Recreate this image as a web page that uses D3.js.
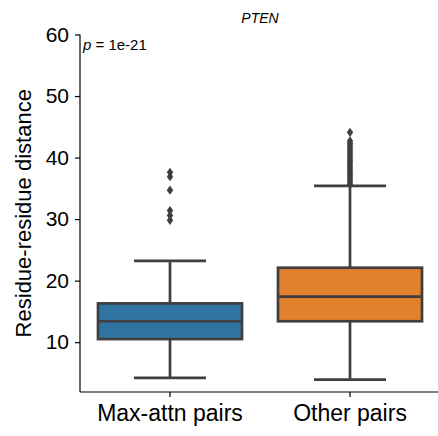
<!DOCTYPE html>
<html>
<head>
<meta charset="utf-8">
<script src="https://cdn.jsdelivr.net/npm/d3@7"></script>
<style>
  body { margin: 0; background: #fff; }
  text { font-family: 'Liberation Sans', Arial, Helvetica, sans-serif; fill: #000; }
</style>
</head>
<body>
<div class="content"></div>
<script>
var width = 438
var height = 436

// data
var categories = ['Max-attn pairs', 'Other pairs']
var colors = ['#3274a1', '#e1812c']
var whiskerLo = [4.2, 3.9]
var q1 = [10.5, 13.4]
var medians = [13.4, 17.4]
var q3 = [16.3, 22.1]
var whiskerHi = [23.2, 35.4]
var outliersMax = [37.6, 36.9, 34.7, 31.4, 30.6, 29.8]
var outliersOther = [44.1, 42.7, 42.3, 41.9, 41.5, 41.1, 40.7, 40.3, 39.9, 39.5,
    39.1, 38.7, 38.3, 37.9, 37.5, 37.1, 36.7, 36.3, 35.9, 35.6]
var yTicks = [10, 20, 30, 40, 50, 60]

var stats = categories.map(function(c, i) {
    return {
        name: c,
        color: colors[i],
        lo: whiskerLo[i], q1: q1[i], med: medians[i], q3: q3[i], hi: whiskerHi[i],
        fliers: i === 0 ? outliersMax : outliersOther
    }
})

var plotLeft = 80, plotRight = 440, plotTop = 34.5, plotBottom = 392
var lineColor = '#3f3f3f'

var x = d3.scaleBand()
    .domain(categories)
    .range([plotLeft, plotRight])
    .paddingInner(0.2)
    .paddingOuter(0.1)

var y = d3.scaleLinear()
    .domain([1.9, 60])
    .range([plotBottom, plotTop])

var svg = d3.select('.content').append('svg')
    .attr('width', width)
    .attr('height', height)

var g = svg.append('g')

var box = g.selectAll('.box')
    .data(stats)
    .enter().append('g')
    .attr('class', 'box')

var bw = x.bandwidth()

// whiskers
box.append('line')
    .attr('x1', function(d) { return x(d.name) + bw / 2 })
    .attr('x2', function(d) { return x(d.name) + bw / 2 })
    .attr('y1', function(d) { return y(d.lo) })
    .attr('y2', function(d) { return y(d.q1) })
box.append('line')
    .attr('x1', function(d) { return x(d.name) + bw / 2 })
    .attr('x2', function(d) { return x(d.name) + bw / 2 })
    .attr('y1', function(d) { return y(d.q3) })
    .attr('y2', function(d) { return y(d.hi) })
// caps
box.append('line')
    .attr('x1', function(d) { return x(d.name) + bw / 4 })
    .attr('x2', function(d) { return x(d.name) + bw * 3 / 4 })
    .attr('y1', function(d) { return y(d.lo) })
    .attr('y2', function(d) { return y(d.lo) })
box.append('line')
    .attr('x1', function(d) { return x(d.name) + bw / 4 })
    .attr('x2', function(d) { return x(d.name) + bw * 3 / 4 })
    .attr('y1', function(d) { return y(d.hi) })
    .attr('y2', function(d) { return y(d.hi) })

box.selectAll('line')
    .style('stroke', lineColor)
    .style('stroke-width', 2.7)

// box body
box.append('rect')
    .attr('x', function(d) { return x(d.name) })
    .attr('width', bw)
    .attr('y', function(d) { return y(d.q3) })
    .attr('height', function(d) { return y(d.q1) - y(d.q3) })
    .style('fill', function(d) { return d.color })
    .style('stroke', lineColor)
    .style('stroke-width', 2.7)

// median
box.append('line')
    .attr('x1', function(d) { return x(d.name) })
    .attr('x2', function(d) { return x(d.name) + bw })
    .attr('y1', function(d) { return y(d.med) })
    .attr('y2', function(d) { return y(d.med) })
    .style('stroke', lineColor)
    .style('stroke-width', 2.7)

// fliers as thin diamonds
box.each(function(d) {
    var cx = x(d.name) + bw / 2
    d3.select(this).selectAll('.flier')
        .data(d.fliers)
        .enter().append('path')
        .attr('class', 'flier')
        .attr('d', function(v) {
            var cy = y(v)
            return 'M' + cx + ',' + (cy - 4.6) + 'L' + (cx + 3.2) + ',' + cy +
                'L' + cx + ',' + (cy + 4.6) + 'L' + (cx - 3.2) + ',' + cy + 'Z'
        })
        .style('fill', lineColor)
})

// axes
var yAxis = g.append('g')
    .attr('transform', 'translate(' + plotLeft + ',0)')
    .call(d3.axisLeft(y).tickValues(yTicks).tickSize(5).tickPadding(6))
yAxis.selectAll('text').style('font-size', '21px')

var xAxis = g.append('g')
    .attr('transform', 'translate(0,' + plotBottom + ')')
    .call(d3.axisBottom(x).tickSize(5).tickPadding(8))
xAxis.selectAll('text').style('font-size', '23px')

g.selectAll('.domain').remove()
yAxis.append('line')
    .attr('x1', 0).attr('x2', 0).attr('y1', plotTop).attr('y2', plotBottom)
xAxis.append('line')
    .attr('x1', plotLeft).attr('x2', plotRight).attr('y1', 0).attr('y2', 0)
yAxis.selectAll('line').style('stroke', '#000').style('stroke-width', 1.2)
xAxis.selectAll('line').style('stroke', '#000').style('stroke-width', 1.2)

// labels
svg.append('text')
    .attr('transform', 'translate(31,' + (plotTop + plotBottom) / 2 + ') rotate(-90)')
    .attr('text-anchor', 'middle')
    .style('font-size', '22px')
    .text('Residue-residue distance')

svg.append('text')
    .attr('x', (plotLeft + plotRight) / 2)
    .attr('y', 23)
    .attr('text-anchor', 'middle')
    .style('font-size', '14px')
    .style('font-style', 'italic')
    .text('PTEN')

var pLabel = svg.append('text')
    .attr('x', 83)
    .attr('y', 50)
    .style('font-size', '15px')
pLabel.append('tspan').style('font-style', 'italic').text('p')
pLabel.append('tspan').text(' = 1e-21')
</script>
</body>
</html>
